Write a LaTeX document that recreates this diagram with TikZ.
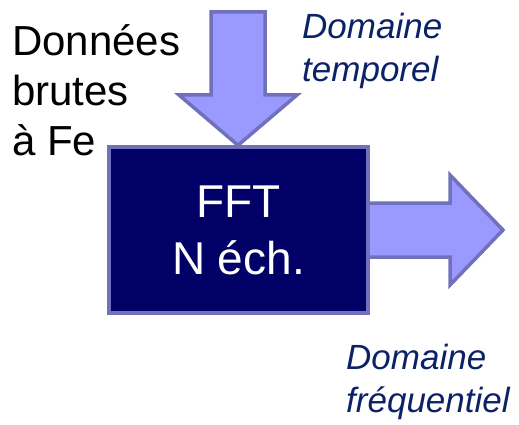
\documentclass[tikz,border=0pt]{standalone}
\usepackage{fontspec}
\setmainfont{Liberation Sans}
\begin{document}
\begin{tikzpicture}[x=1pt,y=-1pt,
  outline/.style={draw=arrowline,line width=3.5pt,line join=miter},
  blockarrow/.style={outline,fill=arrowfill},
  label/.style={inner sep=0pt,align=left,anchor=base west},
  domlabel/.style={label,text=domblue,font=\fontsize{35}{43}\selectfont\itshape}]
\definecolor{arrowfill}{HTML}{9999FF}
\definecolor{arrowline}{HTML}{7070BB}
\definecolor{boxfill}{HTML}{000066}
\definecolor{domblue}{HTML}{0C2266}
\useasboundingbox (0,0) rectangle (519,425);
% box
\node[outline,fill=boxfill,minimum width=259pt,minimum height=166pt,inner sep=0pt,
  text=white,align=center,font=\fontsize{46}{57}\selectfont] (fft) at (238.5,230) {FFT\\N éch.};
% input arrow
\coordinate (intip) at (fft.north -| 238,0);
\draw[blockarrow] (211,12) -- (265,12) -- (265,95) -- (297,95) -- (intip) -- (179,95) -- (211,95) -- cycle;
% output arrow
\coordinate (outtip) at (503,230);
\draw[blockarrow] (fft.east |- 0,203) -- (450,203) -- (450,175) -- (outtip) -- (450,285) -- (450,257) -- (fft.east |- 0,257);
% labels
\node[label,font=\fontsize{42}{50}\selectfont] (raw) at (12,155) {Données\\brutes\\à Fe};
\node[domlabel] (temp) at (302,82) {Domaine\\temporel};
\node[domlabel] (freq) at (346,412) {Domaine\\fréquentiel};
\end{tikzpicture}
\end{document}
